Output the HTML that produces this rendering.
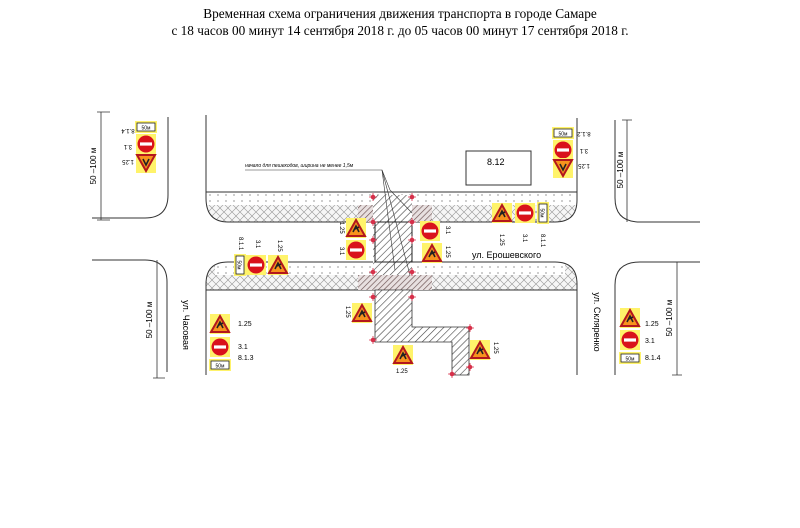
<!DOCTYPE html>
<html><head><meta charset="utf-8"><style>
html,body{margin:0;padding:0;background:#fff;}
svg{display:block;}
text{font-family:"Liberation Sans",sans-serif;}
</style></head><body>
<svg width="800" height="528" viewBox="0 0 800 528" xmlns="http://www.w3.org/2000/svg">
<defs>
<pattern id="hatch" width="5" height="5" patternUnits="userSpaceOnUse" patternTransform="rotate(45)">
<rect width="5" height="5" fill="#fff"/><line x1="0" y1="0" x2="0" y2="5" stroke="#444" stroke-width="1.2"/></pattern>
<pattern id="hatchR" width="4" height="4" patternUnits="userSpaceOnUse" patternTransform="rotate(45)">
<rect width="4" height="4" fill="#e8e0e0"/><line x1="0" y1="0" x2="0" y2="4" stroke="#6a5050" stroke-width="1.3"/></pattern>
<pattern id="dots" width="8" height="6" patternUnits="userSpaceOnUse">
<rect width="8" height="6" fill="#fff"/><circle cx="2" cy="3" r="0.6" fill="#555"/></pattern>
<pattern id="cross" width="8" height="8" patternUnits="userSpaceOnUse">
<rect width="8" height="8" fill="#f6f6f6"/><path d="M0 4 L4 0 L8 4 L4 8 Z" fill="none" stroke="#999" stroke-width="0.6"/></pattern>
<g id="nc"><rect x="-10" y="-10" width="20" height="20" fill="#fff36a"/><circle r="8.5" fill="#d9121b"/><rect x="-6" y="-1.6" width="12" height="3.2" fill="#fff"/></g>
<g id="tr"><rect x="-10" y="-10" width="20" height="20" fill="#fff36a"/><path d="M0 -8 L9 8 L-9 8 Z" fill="#f7931d" stroke="#b3171d" stroke-width="2"/><path d="M-3 4 L0 -2 L3 4 M-1 1 L3 -1" stroke="#222" stroke-width="1.6" fill="none"/></g>
<g id="trd"><rect x="-10" y="-10" width="20" height="20" fill="#fff36a"/><path d="M0 8 L9 -8 L-9 -8 Z" fill="#f7931d" stroke="#b3171d" stroke-width="2"/><path d="M-3 -4 L0 2 L3 -4" stroke="#222" stroke-width="1.6" fill="none"/></g>
<g id="pl"><rect x="-11" y="-6" width="22" height="12" fill="#fff36a"/><rect x="-9" y="-4" width="18" height="8" fill="#fff" stroke="#222" stroke-width="0.8"/><text x="0" y="2.5" font-size="5" text-anchor="middle">50м</text></g>
<g id="rm"><circle r="2.3" fill="#d6314a"/><path d="M-4 0 H4 M0 -4 V4" stroke="#d6314a" stroke-width="0.8"/></g>
</defs>

<text x="400" y="18" font-size="13.3" text-anchor="middle" style="font-family:'Liberation Serif',serif">Временная схема ограничения движения транспорта в городе Самаре</text>
<text x="400" y="35" font-size="13.3" text-anchor="middle" style="font-family:'Liberation Serif',serif">с 18 часов 00 минут 14 сентября 2018 г.  до 05 часов 00 минут 17 сентября 2018 г.</text>

<path d="M206 192 H577 V200 Q577 222 555 222 H228 Q206 222 206 200 Z" fill="url(#cross)"/>
<rect x="206" y="192" width="371" height="13" fill="url(#dots)"/>
<path d="M228 262 H555 Q577 262 577 284 V290 H206 V284 Q206 262 228 262 Z" fill="url(#cross)"/>
<rect x="215" y="262" width="350" height="13" fill="url(#dots)"/>

<g fill="none" stroke="#333" stroke-width="1">
<path d="M168 117 V195 Q168 218 145 218 H92"/>
<path d="M206 115 V198 Q206 222 228 222 H555 Q577 222 577 200 V118"/>
<line x1="206" y1="192" x2="577" y2="192"/>
<path d="M615 120 V198 Q615 222 640 222 H700"/>
<path d="M92 260 H145 Q167 260 167 282 V372"/>
<path d="M206 375 V284 Q206 262 228 262 H555 Q577 262 577 284 V375"/>
<line x1="206" y1="290" x2="577" y2="290"/>
<path d="M615 375 V285 Q615 262 640 262 H700"/>
<rect x="466" y="151" width="65" height="34"/>
</g>
<g stroke="#333" stroke-width="0.8" fill="none">
<path d="M101 112 V220 M97 112 H110 M97 220 H110"/>
<path d="M157 260 V378 M153 378 H165"/>
<path d="M627 120 V222 M622 120 H632"/>
<path d="M677 262 V375 M672 375 H682"/>
</g>
<text transform="translate(96,166) rotate(-90)" font-size="8" text-anchor="middle">50 –100 м</text>
<text transform="translate(152,320) rotate(-90)" font-size="8" text-anchor="middle">50 –100 м</text>
<text transform="translate(623,170) rotate(-90)" font-size="8" text-anchor="middle">50 –100 м</text>
<text transform="translate(672,318) rotate(-90)" font-size="8" text-anchor="middle">50 –100 м</text>
<text transform="translate(183,325) rotate(90)" font-size="9" text-anchor="middle">ул. Часовая</text>
<text transform="translate(594,322) rotate(90)" font-size="9" text-anchor="middle">ул. Скляренко</text>
<text x="472" y="258" font-size="9">ул. Ерошевского</text>
<text x="487" y="165" font-size="9">8.12</text>

<rect x="358" y="205" width="74" height="17" fill="url(#hatchR)"/>
<rect x="358" y="275" width="74" height="15" fill="url(#hatchR)"/>
<rect x="373" y="195" width="39" height="80" fill="url(#hatch)"/>
<rect x="375" y="222" width="37" height="40" fill="none" stroke="#222" stroke-width="1"/>
<path d="M375 290 H412 V327 H469 V375 H452 V342 H375 Z" fill="url(#hatch)" stroke="#333" stroke-width="0.8"/>

<text x="245" y="167" font-size="5" font-style="italic">начало для пешеходов, ширина не менее 1,5м</text>
<g stroke="#333" stroke-width="0.6" fill="none">
<path d="M245 170 H382 L390 190 L412 213"/>
<path d="M382 170 L395 270"/>
<path d="M382 170 L410 275"/>
</g>

<g>
<use href="#rm" x="373" y="197"/><use href="#rm" x="412" y="197"/>
<use href="#rm" x="373" y="222"/><use href="#rm" x="412" y="222"/>
<use href="#rm" x="373" y="240"/><use href="#rm" x="412" y="240"/>
<use href="#rm" x="373" y="272"/><use href="#rm" x="412" y="272"/>
<use href="#rm" x="373" y="297"/><use href="#rm" x="412" y="297"/>
<use href="#rm" x="373" y="340"/><use href="#rm" x="470" y="328"/>
<use href="#rm" x="452" y="374"/><use href="#rm" x="470" y="367"/>
</g>

<use href="#pl" x="146" y="127"/><use href="#nc" x="146" y="144"/><use href="#trd" x="146" y="163"/>
<text transform="translate(128,129) rotate(180)" font-size="6" text-anchor="middle">8.1.4</text>
<text transform="translate(128,145) rotate(180)" font-size="6" text-anchor="middle">3.1</text>
<text transform="translate(128,160) rotate(180)" font-size="6" text-anchor="middle">1.25</text>

<use href="#pl" x="563" y="133"/><use href="#nc" x="563" y="150"/><use href="#trd" x="563" y="168"/>
<text transform="translate(584,132) rotate(180)" font-size="6" text-anchor="middle">8.1.2</text>
<text transform="translate(584,149) rotate(180)" font-size="6" text-anchor="middle">3.1</text>
<text transform="translate(584,164) rotate(180)" font-size="6" text-anchor="middle">1.25</text>

<use href="#tr" x="502" y="213"/><use href="#nc" x="525" y="213"/>
<g transform="translate(543,213) rotate(90)"><use href="#pl"/></g>
<text transform="translate(500,234) rotate(90)" font-size="6">1.25</text>
<text transform="translate(523,234) rotate(90)" font-size="6">3.1</text>
<text transform="translate(541,234) rotate(90)" font-size="6">8.1.1</text>

<g transform="translate(240,265) rotate(90)"><use href="#pl"/></g><use href="#nc" x="256" y="265"/><use href="#tr" x="278" y="265"/>
<text transform="translate(239,237) rotate(90)" font-size="6">8.1.1</text>
<text transform="translate(256,240) rotate(90)" font-size="6">3.1</text>
<text transform="translate(278,240) rotate(90)" font-size="6">1.25</text>

<use href="#tr" x="356" y="228"/><use href="#nc" x="356" y="250"/>
<text transform="translate(340,222) rotate(90)" font-size="6">1.25</text>
<text transform="translate(340,247) rotate(90)" font-size="6">3.1</text>

<use href="#nc" x="430" y="231"/><use href="#tr" x="432" y="253"/>
<text transform="translate(446,226) rotate(90)" font-size="6">3.1</text>
<text transform="translate(446,246) rotate(90)" font-size="6">1.25</text>

<use href="#tr" x="220" y="324"/><use href="#nc" x="220" y="347"/><use href="#pl" x="220" y="365"/>
<text x="238" y="326" font-size="7">1.25</text>
<text x="238" y="349" font-size="7">3.1</text>
<text x="238" y="360" font-size="7">8.1.3</text>

<use href="#tr" x="362" y="313"/>
<text transform="translate(346,306) rotate(90)" font-size="6">1.25</text>
<use href="#tr" x="403" y="355"/>
<text x="396" y="373" font-size="6">1.25</text>
<use href="#tr" x="480" y="350"/>
<text transform="translate(494,342) rotate(90)" font-size="6">1.25</text>

<use href="#tr" x="630" y="318"/><use href="#nc" x="630" y="340"/><use href="#pl" x="630" y="358"/>
<text x="645" y="326" font-size="7">1.25</text>
<text x="645" y="343" font-size="7">3.1</text>
<text x="645" y="360" font-size="7">8.1.4</text>
</svg>
</body></html>
